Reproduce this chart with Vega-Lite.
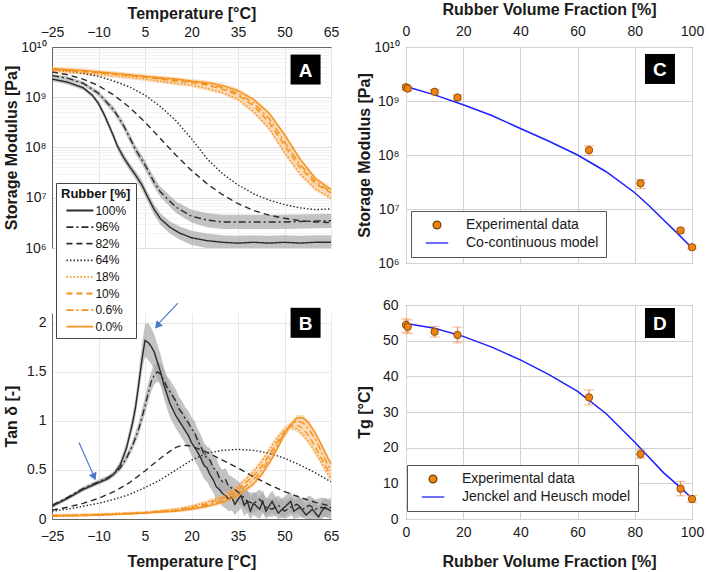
{
 "$schema": "https://vega.github.io/schema/vega-lite/v6.json",
 "padding": {"left": 3, "top": 0, "right": 5, "bottom": 5},
 "background": "white",
 "config": {
  "font": "Liberation Sans",
  "axis": {"labelFontSize": 14, "titleFontSize": 16, "titleFontWeight": "bold", "labelColor": "#1a1a1a", "titleColor": "#1a1a1a", "domainColor": "#666666", "ticks": false, "labelFlush": false, "labelOverlap": false},
  "legend": {"labelFont": "Liberation Sans", "titleFont": "Liberation Sans", "labelLimit": 400}
 },
 "datasets": {
  "modA": [
   {"r":"100%","T":-25,"v":2.3e9,"lo":2.1e9,"hi":2.5e9},
   {"r":"100%","T":-20,"v":2.0e9,"lo":1.8e9,"hi":2.2e9},
   {"r":"100%","T":-15,"v":1.55e9,"lo":1.4e9,"hi":1.7e9},
   {"r":"100%","T":-12,"v":1.1e9,"lo":1.0e9,"hi":1.2e9},
   {"r":"100%","T":-10,"v":7.5e8,"lo":6.6e8,"hi":8.5e8},
   {"r":"100%","T":-8,"v":4.3e8,"lo":3.7e8,"hi":5.0e8},
   {"r":"100%","T":-5,"v":1.6e8,"lo":1.35e8,"hi":1.9e8},
   {"r":"100%","T":-4,"v":1.1e8,"lo":9.2e7,"hi":1.3e8},
   {"r":"100%","T":-2,"v":6.5e7,"lo":5.4e7,"hi":7.8e7},
   {"r":"100%","T":0,"v":4.2e7,"lo":3.5e7,"hi":5.0e7},
   {"r":"100%","T":2,"v":2.8e7,"lo":2.3e7,"hi":3.4e7},
   {"r":"100%","T":4,"v":1.8e7,"lo":1.45e7,"hi":2.2e7},
   {"r":"100%","T":6,"v":1.0e7,"lo":8.0e6,"hi":1.25e7},
   {"r":"100%","T":8,"v":5.8e6,"lo":4.5e6,"hi":7.3e6},
   {"r":"100%","T":10,"v":3.8e6,"lo":2.9e6,"hi":4.9e6},
   {"r":"100%","T":13,"v":2.6e6,"lo":1.95e6,"hi":3.4e6},
   {"r":"100%","T":16,"v":2.0e6,"lo":1.5e6,"hi":2.7e6},
   {"r":"100%","T":20,"v":1.6e6,"lo":1.15e6,"hi":2.2e6},
   {"r":"100%","T":25,"v":1.4e6,"lo":1.0e6,"hi":1.95e6},
   {"r":"100%","T":30,"v":1.3e6,"lo":9.5e5,"hi":1.8e6},
   {"r":"100%","T":35,"v":1.25e6,"lo":9.0e5,"hi":1.75e6},
   {"r":"100%","T":40,"v":1.3e6,"lo":9.5e5,"hi":1.8e6},
   {"r":"100%","T":45,"v":1.25e6,"lo":9.0e5,"hi":1.75e6},
   {"r":"100%","T":50,"v":1.3e6,"lo":9.5e5,"hi":1.8e6},
   {"r":"100%","T":55,"v":1.25e6,"lo":9.0e5,"hi":1.75e6},
   {"r":"100%","T":60,"v":1.3e6,"lo":9.5e5,"hi":1.8e6},
   {"r":"100%","T":65,"v":1.3e6,"lo":9.5e5,"hi":1.8e6},
   {"r":"96%","T":-25,"v":2.7e9,"lo":2.5e9,"hi":2.9e9},
   {"r":"96%","T":-20,"v":2.4e9,"lo":2.2e9,"hi":2.6e9},
   {"r":"96%","T":-15,"v":1.9e9,"lo":1.75e9,"hi":2.05e9},
   {"r":"96%","T":-10,"v":1.2e9,"lo":1.05e9,"hi":1.35e9},
   {"r":"96%","T":-5,"v":5.5e8,"lo":4.7e8,"hi":6.4e8},
   {"r":"96%","T":-2,"v":2.8e8,"lo":2.35e8,"hi":3.3e8},
   {"r":"96%","T":0,"v":1.6e8,"lo":1.3e8,"hi":1.95e8},
   {"r":"96%","T":2,"v":9.0e7,"lo":7.3e7,"hi":1.1e8},
   {"r":"96%","T":5,"v":4.5e7,"lo":3.6e7,"hi":5.6e7},
   {"r":"96%","T":8,"v":2.0e7,"lo":1.6e7,"hi":2.5e7},
   {"r":"96%","T":10,"v":1.3e7,"lo":1.02e7,"hi":1.65e7},
   {"r":"96%","T":15,"v":6.5e6,"lo":5.0e6,"hi":8.4e6},
   {"r":"96%","T":20,"v":4.3e6,"lo":3.2e6,"hi":5.8e6},
   {"r":"96%","T":25,"v":3.6e6,"lo":2.6e6,"hi":5.0e6},
   {"r":"96%","T":30,"v":3.3e6,"lo":2.4e6,"hi":4.6e6},
   {"r":"96%","T":40,"v":3.3e6,"lo":2.4e6,"hi":4.6e6},
   {"r":"96%","T":50,"v":3.3e6,"lo":2.4e6,"hi":4.6e6},
   {"r":"96%","T":65,"v":3.5e6,"lo":2.5e6,"hi":4.8e6},
   {"r":"82%","T":-25,"v":3.2e9},{"r":"82%","T":-20,"v":2.8e9},{"r":"82%","T":-15,"v":2.3e9},{"r":"82%","T":-10,"v":1.7e9},
   {"r":"82%","T":-5,"v":1.1e9},{"r":"82%","T":0,"v":6.3e8},{"r":"82%","T":5,"v":3.2e8},{"r":"82%","T":10,"v":1.5e8},
   {"r":"82%","T":15,"v":7.0e7},{"r":"82%","T":20,"v":3.5e7},{"r":"82%","T":25,"v":1.9e7},{"r":"82%","T":30,"v":1.15e7},
   {"r":"82%","T":35,"v":7.6e6},{"r":"82%","T":40,"v":5.6e6},{"r":"82%","T":45,"v":4.5e6},{"r":"82%","T":50,"v":3.9e6},
   {"r":"82%","T":55,"v":3.5e6},{"r":"82%","T":60,"v":3.3e6},{"r":"82%","T":65,"v":3.2e6},
   {"r":"64%","T":-25,"v":3.6e9},{"r":"64%","T":-20,"v":3.3e9},{"r":"64%","T":-15,"v":3.0e9},{"r":"64%","T":-10,"v":2.6e9},
   {"r":"64%","T":-5,"v":2.1e9},{"r":"64%","T":0,"v":1.6e9},{"r":"64%","T":5,"v":1.1e9},{"r":"64%","T":10,"v":6.5e8},
   {"r":"64%","T":15,"v":3.4e8},{"r":"64%","T":20,"v":1.5e8},{"r":"64%","T":25,"v":6.0e7},{"r":"64%","T":30,"v":3.0e7},
   {"r":"64%","T":35,"v":1.8e7},{"r":"64%","T":40,"v":1.2e7},{"r":"64%","T":45,"v":9.0e6},{"r":"64%","T":50,"v":7.3e6},
   {"r":"64%","T":55,"v":6.3e6},{"r":"64%","T":60,"v":5.8e6},{"r":"64%","T":65,"v":6.0e6},
   {"r":"18%","T":-25,"v":3.4e9},{"r":"18%","T":-15,"v":3.1e9},{"r":"18%","T":-5,"v":2.7e9},{"r":"18%","T":5,"v":2.3e9},
   {"r":"18%","T":15,"v":1.9e9},{"r":"18%","T":20,"v":1.75e9},{"r":"18%","T":25,"v":1.5e9},{"r":"18%","T":30,"v":1.25e9},
   {"r":"18%","T":35,"v":9.1e8},{"r":"18%","T":40,"v":5.2e8},{"r":"18%","T":45,"v":2.4e8},{"r":"18%","T":50,"v":7.9e7},
   {"r":"18%","T":55,"v":3.0e7},{"r":"18%","T":60,"v":1.5e7},{"r":"18%","T":65,"v":1.0e7},
   {"r":"10%","T":-25,"v":3.55e9},{"r":"10%","T":-15,"v":3.25e9},{"r":"10%","T":-5,"v":2.9e9},{"r":"10%","T":5,"v":2.5e9},
   {"r":"10%","T":15,"v":2.1e9},{"r":"10%","T":20,"v":1.95e9},{"r":"10%","T":25,"v":1.75e9},{"r":"10%","T":30,"v":1.45e9},
   {"r":"10%","T":35,"v":1.1e9},{"r":"10%","T":40,"v":6.8e8},{"r":"10%","T":45,"v":3.2e8},{"r":"10%","T":50,"v":1.1e8},
   {"r":"10%","T":55,"v":4.0e7},{"r":"10%","T":60,"v":1.9e7},{"r":"10%","T":65,"v":1.25e7},
   {"r":"0.6%","T":-25,"v":3.6e9},{"r":"0.6%","T":-15,"v":3.3e9},{"r":"0.6%","T":-5,"v":2.95e9},{"r":"0.6%","T":5,"v":2.55e9},
   {"r":"0.6%","T":15,"v":2.2e9},{"r":"0.6%","T":20,"v":2.05e9},{"r":"0.6%","T":25,"v":1.85e9},{"r":"0.6%","T":30,"v":1.55e9},
   {"r":"0.6%","T":35,"v":1.2e9},{"r":"0.6%","T":40,"v":7.6e8},{"r":"0.6%","T":45,"v":3.8e8},{"r":"0.6%","T":50,"v":1.3e8},
   {"r":"0.6%","T":55,"v":4.6e7},{"r":"0.6%","T":60,"v":2.1e7},{"r":"0.6%","T":65,"v":1.3e7},
   {"r":"0.0%","T":-25,"v":3.7e9,"lo":3.1e9,"hi":4.05e9},
   {"r":"0.0%","T":-15,"v":3.4e9,"lo":2.8e9,"hi":3.75e9},
   {"r":"0.0%","T":-5,"v":3.0e9,"lo":2.45e9,"hi":3.3e9},
   {"r":"0.0%","T":5,"v":2.6e9,"lo":2.1e9,"hi":2.85e9},
   {"r":"0.0%","T":15,"v":2.3e9,"lo":1.73e9,"hi":2.5e9},
   {"r":"0.0%","T":20,"v":2.1e9,"lo":1.6e9,"hi":2.3e9},
   {"r":"0.0%","T":25,"v":1.95e9,"lo":1.36e9,"hi":2.15e9},
   {"r":"0.0%","T":30,"v":1.7e9,"lo":1.14e9,"hi":1.87e9},
   {"r":"0.0%","T":35,"v":1.35e9,"lo":8.3e8,"hi":1.5e9},
   {"r":"0.0%","T":40,"v":9.0e8,"lo":4.7e8,"hi":9.9e8},
   {"r":"0.0%","T":45,"v":4.8e8,"lo":2.2e8,"hi":5.3e8},
   {"r":"0.0%","T":50,"v":1.8e8,"lo":7.2e7,"hi":2.0e8},
   {"r":"0.0%","T":55,"v":5.9e7,"lo":2.7e7,"hi":6.5e7},
   {"r":"0.0%","T":60,"v":2.4e7,"lo":1.36e7,"hi":2.65e7},
   {"r":"0.0%","T":65,"v":1.45e7,"lo":9.1e6,"hi":1.6e7}
  ],
  "tanB": [
   {"r":"100%","T":-25,"v":0.13,"lo":0.11,"hi":0.15},{"r":"100%","T":-20,"v":0.21,"lo":0.19,"hi":0.23},
   {"r":"100%","T":-15,"v":0.30,"lo":0.28,"hi":0.32},{"r":"100%","T":-10,"v":0.37,"lo":0.35,"hi":0.39},
   {"r":"100%","T":-7,"v":0.41,"lo":0.39,"hi":0.44},{"r":"100%","T":-5,"v":0.46,"lo":0.43,"hi":0.49},
   {"r":"100%","T":-3,"v":0.55,"lo":0.51,"hi":0.59},{"r":"100%","T":-1,"v":0.72,"lo":0.67,"hi":0.78},
   {"r":"100%","T":1,"v":0.98,"lo":0.91,"hi":1.06},{"r":"100%","T":2,"v":1.15,"lo":1.06,"hi":1.25},
   {"r":"100%","T":3,"v":1.38,"lo":1.27,"hi":1.5},{"r":"100%","T":4,"v":1.62,"lo":1.5,"hi":1.78},
   {"r":"100%","T":5,"v":1.82,"lo":1.66,"hi":1.98},{"r":"100%","T":6,"v":1.8,"lo":1.62,"hi":2.0},
   {"r":"100%","T":7,"v":1.76,"lo":1.58,"hi":1.95},{"r":"100%","T":8,"v":1.7,"lo":1.52,"hi":1.88},
   {"r":"100%","T":9,"v":1.6,"lo":1.44,"hi":1.78},{"r":"100%","T":10,"v":1.5,"lo":1.36,"hi":1.68},
   {"r":"100%","T":11,"v":1.38,"lo":1.24,"hi":1.56},{"r":"100%","T":12,"v":1.28,"lo":1.14,"hi":1.45},
   {"r":"100%","T":13,"v":1.18,"lo":1.04,"hi":1.36},{"r":"100%","T":15,"v":1.05,"lo":0.92,"hi":1.22},
   {"r":"100%","T":17,"v":0.95,"lo":0.82,"hi":1.12},{"r":"100%","T":19,"v":0.85,"lo":0.72,"hi":1.02},
   {"r":"100%","T":20,"v":0.78,"lo":0.65,"hi":0.96},{"r":"100%","T":22,"v":0.68,"lo":0.54,"hi":0.85},
   {"r":"100%","T":23,"v":0.62,"lo":0.48,"hi":0.78},{"r":"100%","T":24,"v":0.55,"lo":0.41,"hi":0.72},
   {"r":"100%","T":25,"v":0.52,"lo":0.38,"hi":0.68},{"r":"100%","T":26,"v":0.45,"lo":0.32,"hi":0.6},
   {"r":"100%","T":27,"v":0.4,"lo":0.27,"hi":0.55},{"r":"100%","T":28,"v":0.33,"lo":0.2,"hi":0.48},
   {"r":"100%","T":29,"v":0.3,"lo":0.17,"hi":0.44},{"r":"100%","T":30,"v":0.26,"lo":0.13,"hi":0.4},
   {"r":"100%","T":31,"v":0.24,"lo":0.11,"hi":0.38},{"r":"100%","T":32,"v":0.2,"lo":0.08,"hi":0.34},
   {"r":"100%","T":33,"v":0.22,"lo":0.09,"hi":0.35},{"r":"100%","T":34,"v":0.15,"lo":0.04,"hi":0.3},
   {"r":"100%","T":35,"v":0.2,"lo":0.08,"hi":0.33},{"r":"100%","T":36,"v":0.24,"lo":0.11,"hi":0.36},
   {"r":"100%","T":37,"v":0.14,"lo":0.03,"hi":0.27},{"r":"100%","T":38,"v":0.18,"lo":0.06,"hi":0.3},
   {"r":"100%","T":39,"v":0.08,"lo":0.0,"hi":0.22},{"r":"100%","T":40,"v":0.16,"lo":0.04,"hi":0.28},
   {"r":"100%","T":42,"v":0.1,"lo":0.0,"hi":0.22},{"r":"100%","T":43,"v":0.18,"lo":0.06,"hi":0.3},
   {"r":"100%","T":44,"v":0.08,"lo":0.0,"hi":0.2},{"r":"100%","T":46,"v":0.18,"lo":0.07,"hi":0.29},
   {"r":"100%","T":48,"v":0.06,"lo":0.0,"hi":0.18},{"r":"100%","T":50,"v":0.12,"lo":0.02,"hi":0.23},
   {"r":"100%","T":52,"v":0.18,"lo":0.07,"hi":0.28},{"r":"100%","T":53,"v":0.08,"lo":0.0,"hi":0.19},
   {"r":"100%","T":55,"v":0.12,"lo":0.02,"hi":0.22},{"r":"100%","T":57,"v":0.04,"lo":0.0,"hi":0.15},
   {"r":"100%","T":59,"v":0.1,"lo":0.0,"hi":0.2},{"r":"100%","T":61,"v":0.02,"lo":0.0,"hi":0.13},
   {"r":"100%","T":62,"v":0.08,"lo":0.0,"hi":0.18},{"r":"100%","T":63,"v":0.12,"lo":0.02,"hi":0.22},
   {"r":"100%","T":65,"v":0.08,"lo":0.0,"hi":0.18},
   {"r":"96%","T":-25,"v":0.14,"lo":0.13,"hi":0.15},{"r":"96%","T":-20,"v":0.22,"lo":0.21,"hi":0.23},
   {"r":"96%","T":-15,"v":0.31,"lo":0.3,"hi":0.33},{"r":"96%","T":-10,"v":0.38,"lo":0.36,"hi":0.4},
   {"r":"96%","T":-7,"v":0.42,"lo":0.4,"hi":0.44},{"r":"96%","T":-5,"v":0.46,"lo":0.44,"hi":0.48},
   {"r":"96%","T":-3,"v":0.52,"lo":0.49,"hi":0.55},{"r":"96%","T":-1,"v":0.62,"lo":0.58,"hi":0.66},
   {"r":"96%","T":1,"v":0.75,"lo":0.7,"hi":0.8},{"r":"96%","T":3,"v":0.92,"lo":0.86,"hi":0.99},
   {"r":"96%","T":5,"v":1.15,"lo":1.07,"hi":1.24},{"r":"96%","T":6,"v":1.28,"lo":1.19,"hi":1.38},
   {"r":"96%","T":7,"v":1.4,"lo":1.3,"hi":1.5},{"r":"96%","T":8,"v":1.47,"lo":1.37,"hi":1.57},
   {"r":"96%","T":9,"v":1.5,"lo":1.4,"hi":1.6},{"r":"96%","T":10,"v":1.48,"lo":1.38,"hi":1.59},
   {"r":"96%","T":11,"v":1.42,"lo":1.32,"hi":1.53},{"r":"96%","T":12,"v":1.35,"lo":1.25,"hi":1.46},
   {"r":"96%","T":13,"v":1.3,"lo":1.19,"hi":1.42},{"r":"96%","T":14,"v":1.25,"lo":1.14,"hi":1.37},
   {"r":"96%","T":15,"v":1.2,"lo":1.08,"hi":1.32},{"r":"96%","T":16,"v":1.12,"lo":1.0,"hi":1.24},
   {"r":"96%","T":17,"v":1.08,"lo":0.96,"hi":1.2},{"r":"96%","T":18,"v":1.02,"lo":0.9,"hi":1.14},
   {"r":"96%","T":19,"v":0.98,"lo":0.86,"hi":1.1},{"r":"96%","T":20,"v":0.92,"lo":0.8,"hi":1.04},
   {"r":"96%","T":21,"v":0.88,"lo":0.76,"hi":1.0},{"r":"96%","T":22,"v":0.8,"lo":0.68,"hi":0.92},
   {"r":"96%","T":23,"v":0.74,"lo":0.62,"hi":0.86},{"r":"96%","T":24,"v":0.66,"lo":0.54,"hi":0.78},
   {"r":"96%","T":25,"v":0.62,"lo":0.5,"hi":0.74},{"r":"96%","T":26,"v":0.6,"lo":0.48,"hi":0.72},
   {"r":"96%","T":27,"v":0.52,"lo":0.4,"hi":0.64},{"r":"96%","T":28,"v":0.5,"lo":0.38,"hi":0.62},
   {"r":"96%","T":29,"v":0.42,"lo":0.3,"hi":0.54},{"r":"96%","T":30,"v":0.38,"lo":0.26,"hi":0.5},
   {"r":"96%","T":31,"v":0.4,"lo":0.28,"hi":0.52},{"r":"96%","T":32,"v":0.33,"lo":0.22,"hi":0.45},
   {"r":"96%","T":34,"v":0.3,"lo":0.19,"hi":0.41},{"r":"96%","T":36,"v":0.25,"lo":0.14,"hi":0.36},
   {"r":"96%","T":38,"v":0.18,"lo":0.08,"hi":0.28},{"r":"96%","T":40,"v":0.16,"lo":0.06,"hi":0.26},
   {"r":"96%","T":42,"v":0.2,"lo":0.1,"hi":0.3},{"r":"96%","T":44,"v":0.12,"lo":0.03,"hi":0.22},
   {"r":"96%","T":46,"v":0.1,"lo":0.02,"hi":0.2},{"r":"96%","T":48,"v":0.14,"lo":0.05,"hi":0.24},
   {"r":"96%","T":50,"v":0.08,"lo":0.0,"hi":0.18},{"r":"96%","T":52,"v":0.12,"lo":0.03,"hi":0.22},
   {"r":"96%","T":54,"v":0.15,"lo":0.06,"hi":0.25},{"r":"96%","T":56,"v":0.1,"lo":0.02,"hi":0.2},
   {"r":"96%","T":58,"v":0.14,"lo":0.05,"hi":0.24},{"r":"96%","T":60,"v":0.1,"lo":0.02,"hi":0.2},
   {"r":"96%","T":62,"v":0.12,"lo":0.03,"hi":0.22},{"r":"96%","T":64,"v":0.1,"lo":0.02,"hi":0.2},
   {"r":"96%","T":65,"v":0.12,"lo":0.03,"hi":0.22},
   {"r":"82%","T":-25,"v":0.09},{"r":"82%","T":-20,"v":0.12},{"r":"82%","T":-15,"v":0.16},{"r":"82%","T":-10,"v":0.21},
   {"r":"82%","T":-5,"v":0.28},{"r":"82%","T":0,"v":0.37},{"r":"82%","T":5,"v":0.49},{"r":"82%","T":10,"v":0.62},
   {"r":"82%","T":13,"v":0.69},{"r":"82%","T":15,"v":0.73},{"r":"82%","T":17,"v":0.75},{"r":"82%","T":19,"v":0.75},
   {"r":"82%","T":21,"v":0.73},{"r":"82%","T":25,"v":0.68},{"r":"82%","T":30,"v":0.6},{"r":"82%","T":35,"v":0.52},
   {"r":"82%","T":40,"v":0.43},{"r":"82%","T":45,"v":0.35},{"r":"82%","T":50,"v":0.28},{"r":"82%","T":55,"v":0.22},
   {"r":"82%","T":60,"v":0.17},{"r":"82%","T":65,"v":0.13},
   {"r":"64%","T":-25,"v":0.08},{"r":"64%","T":-20,"v":0.1},{"r":"64%","T":-15,"v":0.13},{"r":"64%","T":-10,"v":0.16},
   {"r":"64%","T":-5,"v":0.2},{"r":"64%","T":0,"v":0.25},{"r":"64%","T":5,"v":0.32},{"r":"64%","T":10,"v":0.4},
   {"r":"64%","T":15,"v":0.5},{"r":"64%","T":20,"v":0.6},{"r":"64%","T":25,"v":0.67},{"r":"64%","T":30,"v":0.7},
   {"r":"64%","T":35,"v":0.71},{"r":"64%","T":40,"v":0.7},{"r":"64%","T":45,"v":0.67},{"r":"64%","T":50,"v":0.62},
   {"r":"64%","T":55,"v":0.55},{"r":"64%","T":60,"v":0.47},{"r":"64%","T":65,"v":0.38},
   {"r":"18%","T":-25,"v":0.04},{"r":"18%","T":-15,"v":0.045},{"r":"18%","T":-5,"v":0.055},{"r":"18%","T":5,"v":0.07},
   {"r":"18%","T":15,"v":0.1},{"r":"18%","T":20,"v":0.13},{"r":"18%","T":25,"v":0.17},{"r":"18%","T":30,"v":0.23},
   {"r":"18%","T":35,"v":0.33},{"r":"18%","T":40,"v":0.48},{"r":"18%","T":43,"v":0.6},{"r":"18%","T":46,"v":0.75},
   {"r":"18%","T":48,"v":0.84},{"r":"18%","T":50,"v":0.91},{"r":"18%","T":52,"v":0.94},{"r":"18%","T":54,"v":0.92},
   {"r":"18%","T":56,"v":0.86},{"r":"18%","T":58,"v":0.78},{"r":"18%","T":60,"v":0.68},{"r":"18%","T":62,"v":0.57},
   {"r":"18%","T":64,"v":0.46},{"r":"18%","T":65,"v":0.41},
   {"r":"10%","T":-25,"v":0.035},{"r":"10%","T":-15,"v":0.04},{"r":"10%","T":-5,"v":0.05},{"r":"10%","T":5,"v":0.066},
   {"r":"10%","T":15,"v":0.09},{"r":"10%","T":20,"v":0.12},{"r":"10%","T":25,"v":0.155},{"r":"10%","T":30,"v":0.21},
   {"r":"10%","T":35,"v":0.3},{"r":"10%","T":40,"v":0.44},{"r":"10%","T":43,"v":0.55},{"r":"10%","T":46,"v":0.7},
   {"r":"10%","T":48,"v":0.8},{"r":"10%","T":50,"v":0.89},{"r":"10%","T":52,"v":0.95},{"r":"10%","T":54,"v":0.96},
   {"r":"10%","T":56,"v":0.92},{"r":"10%","T":58,"v":0.84},{"r":"10%","T":60,"v":0.73},{"r":"10%","T":62,"v":0.61},
   {"r":"10%","T":64,"v":0.5},{"r":"10%","T":65,"v":0.45},
   {"r":"0.6%","T":-25,"v":0.03},{"r":"0.6%","T":-15,"v":0.036},{"r":"0.6%","T":-5,"v":0.047},{"r":"0.6%","T":5,"v":0.062},
   {"r":"0.6%","T":15,"v":0.085},{"r":"0.6%","T":20,"v":0.11},{"r":"0.6%","T":25,"v":0.14},{"r":"0.6%","T":30,"v":0.19},
   {"r":"0.6%","T":35,"v":0.27},{"r":"0.6%","T":40,"v":0.4},{"r":"0.6%","T":43,"v":0.51},{"r":"0.6%","T":46,"v":0.66},
   {"r":"0.6%","T":48,"v":0.77},{"r":"0.6%","T":50,"v":0.88},{"r":"0.6%","T":52,"v":0.96},{"r":"0.6%","T":54,"v":1.0},
   {"r":"0.6%","T":56,"v":0.98},{"r":"0.6%","T":58,"v":0.91},{"r":"0.6%","T":60,"v":0.81},{"r":"0.6%","T":62,"v":0.68},
   {"r":"0.6%","T":64,"v":0.55},{"r":"0.6%","T":65,"v":0.5},
   {"r":"0.0%","T":-25,"v":0.03,"lo":0.02,"hi":0.05},{"r":"0.0%","T":-15,"v":0.035,"lo":0.025,"hi":0.055},
   {"r":"0.0%","T":-5,"v":0.045,"lo":0.035,"hi":0.065},{"r":"0.0%","T":5,"v":0.06,"lo":0.05,"hi":0.08},
   {"r":"0.0%","T":15,"v":0.08,"lo":0.065,"hi":0.115},{"r":"0.0%","T":20,"v":0.1,"lo":0.085,"hi":0.145},
   {"r":"0.0%","T":25,"v":0.13,"lo":0.11,"hi":0.19},{"r":"0.0%","T":30,"v":0.17,"lo":0.15,"hi":0.25},
   {"r":"0.0%","T":35,"v":0.24,"lo":0.22,"hi":0.35},{"r":"0.0%","T":40,"v":0.36,"lo":0.33,"hi":0.51},
   {"r":"0.0%","T":43,"v":0.47,"lo":0.44,"hi":0.63},{"r":"0.0%","T":46,"v":0.62,"lo":0.59,"hi":0.78},
   {"r":"0.0%","T":48,"v":0.74,"lo":0.71,"hi":0.87},{"r":"0.0%","T":50,"v":0.86,"lo":0.83,"hi":0.94},
   {"r":"0.0%","T":52,"v":0.96,"lo":0.91,"hi":0.99},{"r":"0.0%","T":54,"v":1.03,"lo":0.89,"hi":1.06},
   {"r":"0.0%","T":56,"v":1.03,"lo":0.83,"hi":1.06},{"r":"0.0%","T":58,"v":0.97,"lo":0.75,"hi":1.0},
   {"r":"0.0%","T":60,"v":0.87,"lo":0.65,"hi":0.9},{"r":"0.0%","T":62,"v":0.75,"lo":0.54,"hi":0.78},
   {"r":"0.0%","T":64,"v":0.62,"lo":0.43,"hi":0.65},{"r":"0.0%","T":65,"v":0.56,"lo":0.38,"hi":0.59}
  ],
  "ptsC": [
   {"f":0,"E":1.8e9,"lo":1.6e9,"hi":2.0e9},
   {"f":0.6,"E":1.7e9,"lo":1.55e9,"hi":1.85e9},
   {"f":10,"E":1.48e9,"lo":1.35e9,"hi":1.62e9},
   {"f":18,"E":1.16e9,"lo":1.05e9,"hi":1.28e9},
   {"f":64,"E":1.23e8,"lo":9.8e7,"hi":1.48e8},
   {"f":82,"E":3.0e7,"lo":2.4e7,"hi":3.5e7},
   {"f":96,"E":4.0e6,"lo":3.6e6,"hi":4.4e6},
   {"f":100,"E":1.96e6,"lo":1.8e6,"hi":2.15e6}
  ],
  "lineC": [
   {"f":0,"E":1.85e9},{"f":10,"E":1.3e9},{"f":20,"E":8.5e8},{"f":30,"E":5.4e8},{"f":40,"E":3.1e8},
   {"f":50,"E":1.8e8},{"f":60,"E":1.0e8},{"f":70,"E":4.9e7},{"f":80,"E":2.0e7},{"f":85,"E":1.15e7},
   {"f":90,"E":6.3e6},{"f":95,"E":3.5e6},{"f":100,"E":1.9e6}
  ],
  "ptsD": [
   {"f":0,"Tg":54.4,"lo":52.4,"hi":56.1},
   {"f":0.6,"Tg":53.9,"lo":52.0,"hi":55.8},
   {"f":10,"Tg":52.5,"lo":51.0,"hi":54.0},
   {"f":18,"Tg":51.6,"lo":49.4,"hi":53.8},
   {"f":64,"Tg":34.1,"lo":32.0,"hi":36.2},
   {"f":82,"Tg":18.2,"lo":17.0,"hi":19.4},
   {"f":96,"Tg":8.5,"lo":6.5,"hi":10.5},
   {"f":100,"Tg":5.6,"lo":4.6,"hi":6.6}
  ],
  "lineD": [
   {"f":0,"Tg":54.8},{"f":10,"Tg":53.5},{"f":20,"Tg":51.2},{"f":30,"Tg":48.2},{"f":40,"Tg":44.6},
   {"f":50,"Tg":40.5},{"f":60,"Tg":35.8},{"f":70,"Tg":29.5},{"f":80,"Tg":21.5},{"f":90,"Tg":13.0},
   {"f":95,"Tg":9.5},{"f":100,"Tg":5.8}
  ]
 },
 "bounds": "flush",
 "spacing": 354,
 "resolve": {"scale": {"color": "independent", "strokeDash": "independent", "fill": "independent", "stroke": "independent", "shape": "independent"}, "legend": {"color": "independent", "strokeDash": "independent", "fill": "independent", "stroke": "independent", "shape": "independent"}},
 "hconcat": [
  {
   "bounds": "flush",
   "spacing": 65,
   "resolve": {"scale": {"color": "independent", "strokeDash": "independent"}, "legend": {"color": "independent", "strokeDash": "independent"}},
   "vconcat": [
    {
     "width": 279, "height": 201,
     "view": {"stroke": null},
     "data": {"name": "modA"},
     "encoding": {
      "x": {"field": "T", "type": "quantitative", "scale": {"domain": [-25, 65], "nice": false, "zero": false},
            "axis": {"orient": "top", "values": [-25, -10, 5, 20, 35, 50, 65], "title": "Temperature [°C]", "grid": true, "gridColor": "#e4e4e4", "labelPadding": 8, "titleY": -29, "titleBaseline": "alphabetic"}},
      "y": {"field": "v", "type": "quantitative", "scale": {"type": "log", "domain": [1e6, 1e10]},
            "axis": {"values": [1e6,2e6,3e6,4e6,5e6,6e6,7e6,8e6,9e6,1e7,2e7,3e7,4e7,5e7,6e7,7e7,8e7,9e7,1e8,2e8,3e8,4e8,5e8,6e8,7e8,8e8,9e8,1e9,2e9,3e9,4e9,5e9,6e9,7e9,8e9,9e9,1e10],
                     "labelExpr": "abs(log(datum.value)/LN10 - round(log(datum.value)/LN10)) < 0.001 ? ['10⁶','10⁷','10⁸','10⁹','10¹⁰'][round(log(datum.value)/LN10) - 6] : ''",
                     "grid": true,
                     "gridColor": {"condition": {"test": "abs(log(datum.value)/LN10 - round(log(datum.value)/LN10)) < 0.001", "value": "#dedede"}, "value": "#f2f2f2"},
                     "labelPadding": 6, "title": "Storage Modulus [Pa]", "titleX": -33}}
     },
     "layer": [
      {"transform": [{"filter": "datum.r == '100%' || datum.r == '96%'"}],
       "mark": {"type": "area", "color": "#a9a9a9", "opacity": 0.7, "clip": true},
       "encoding": {"y": {"field": "lo", "type": "quantitative", "scale": {"type": "log", "domain": [1e6, 1e10]}}, "y2": {"field": "hi"}, "detail": {"field": "r"}}},
      {"transform": [{"filter": "datum.r == '0.0%'"}],
       "mark": {"type": "area", "color": "#f8b66c", "opacity": 0.5, "clip": true},
       "encoding": {"y": {"field": "lo", "type": "quantitative", "scale": {"type": "log", "domain": [1e6, 1e10]}}, "y2": {"field": "hi"}}},
      {"mark": {"type": "line", "strokeWidth": 1.4, "clip": true},
       "encoding": {
        "color": {"field": "r", "type": "nominal", "scale": {"domain": ["100%","96%","82%","64%","18%","10%","0.6%","0.0%"], "range": ["#2b2b2b","#2b2b2b","#2b2b2b","#2b2b2b","#f5921e","#f5921e","#f5921e","#f5921e"]}, "legend": null},
        "strokeDash": {"field": "r", "type": "nominal", "scale": {"domain": ["100%","96%","82%","64%","18%","10%","0.6%","0.0%"], "range": [[1,0],[7,3,2,3],[6,4],[1.5,2],[1.5,2],[6,4],[7,3,2,3],[1,0]]}, "legend": null}
       }},
      {"data": {"values": [{"T": 56.8, "v": 3.56e9, "t": "A"}]},
       "mark": {"type": "point", "shape": "square", "filled": true, "color": "black", "size": 900, "opacity": 1}},
      {"data": {"values": [{"T": 56.8, "v": 3.56e9, "t": "A"}]},
       "mark": {"type": "text", "color": "white", "fontWeight": "bold", "fontSize": 19, "align": "center", "baseline": "middle", "dy": 1},
       "encoding": {"text": {"field": "t"}}}
     ]
    },
    {
     "width": 279, "height": 206,
     "view": {"stroke": null},
     "data": {"name": "tanB"},
     "encoding": {
      "x": {"field": "T", "type": "quantitative", "scale": {"domain": [-25, 65], "nice": false, "zero": false},
            "axis": {"orient": "bottom", "values": [-25, -10, 5, 20, 35, 50, 65], "title": "Temperature [°C]", "grid": true, "gridColor": "#e8e8e8", "labelPadding": 10, "titleY": 47, "titleBaseline": "alphabetic"}},
      "y": {"field": "v", "type": "quantitative", "scale": {"domain": [0, 2.1], "nice": false},
            "axis": {"values": [0, 0.5, 1, 1.5, 2], "format": "~g", "grid": true, "gridColor": "#e8e8e8", "labelPadding": 6, "title": "Tan δ [-]", "titleX": -33}}
     },
     "layer": [
      {"transform": [{"filter": "datum.r == '100%' || datum.r == '96%'"}],
       "mark": {"type": "area", "color": "#a9a9a9", "opacity": 0.7, "clip": true},
       "encoding": {"y": {"field": "lo", "type": "quantitative", "scale": {"domain": [0, 2.1], "nice": false}}, "y2": {"field": "hi"}, "detail": {"field": "r"}}},
      {"transform": [{"filter": "datum.r == '0.0%'"}],
       "mark": {"type": "area", "color": "#f8b66c", "opacity": 0.5, "clip": true},
       "encoding": {"y": {"field": "lo", "type": "quantitative", "scale": {"domain": [0, 2.1], "nice": false}}, "y2": {"field": "hi"}}},
      {"mark": {"type": "line", "strokeWidth": 1.4, "clip": true},
       "encoding": {
        "color": {"field": "r", "type": "nominal", "scale": {"domain": ["100%","96%","82%","64%","18%","10%","0.6%","0.0%"], "range": ["#2b2b2b","#2b2b2b","#2b2b2b","#2b2b2b","#f5921e","#f5921e","#f5921e","#f5921e"]},
                  "legend": {"orient": "none", "legendX": 4, "legendY": -130, "title": "Rubber [%]", "titleFontSize": 13, "titleFontWeight": "bold", "titleColor": "#111111", "labelFontSize": 12, "labelColor": "#111111", "symbolType": "M-2.2,0H2.2", "symbolSize": 150, "symbolStrokeWidth": 1.8, "symbolOffset": 11.4, "strokeColor": "#444444", "fillColor": "white", "padding": 5, "rowPadding": 2.6, "labelOffset": 8, "titlePadding": 2}},
        "strokeDash": {"field": "r", "type": "nominal", "scale": {"domain": ["100%","96%","82%","64%","18%","10%","0.6%","0.0%"], "range": [[1,0],[7,3,2,3],[6,4],[1.5,2],[1.5,2],[6,4],[7,3,2,3],[1,0]]},
                  "legend": {"orient": "none", "legendX": 4, "legendY": -130, "title": "Rubber [%]", "titleFontSize": 13, "titleFontWeight": "bold", "titleColor": "#111111", "labelFontSize": 12, "labelColor": "#111111", "symbolType": "M-2.2,0H2.2", "symbolSize": 150, "symbolStrokeWidth": 1.8, "symbolOffset": 11.4, "strokeColor": "#444444", "fillColor": "white", "padding": 5, "rowPadding": 2.6, "labelOffset": 8, "titlePadding": 2}}
       }},
      {"data": {"values": [{"T": -16.3, "v": 0.78, "T2": -11.8, "v2": 0.46}, {"T": 15.6, "v": 2.2, "T2": 9.6, "v2": 2.0}]},
       "mark": {"type": "rule", "color": "#4a78c8", "strokeWidth": 1.2, "clip": false},
       "encoding": {"x2": {"field": "T2"}, "y2": {"field": "v2"}}},
      {"data": {"values": [{"T": -11.4, "v": 0.43}]},
       "mark": {"type": "point", "shape": "triangle-up", "filled": true, "color": "#4a78c8", "size": 70, "angle": 156, "opacity": 1, "clip": false}},
      {"data": {"values": [{"T": 9.0, "v": 1.97}]},
       "mark": {"type": "point", "shape": "triangle-up", "filled": true, "color": "#4a78c8", "size": 70, "angle": 221, "opacity": 1, "clip": false}},
      {"data": {"values": [{"T": 56.8, "v": 2.0, "t": "B"}]},
       "mark": {"type": "point", "shape": "square", "filled": true, "color": "black", "size": 900, "opacity": 1}},
      {"data": {"values": [{"T": 56.8, "v": 2.0, "t": "B"}]},
       "mark": {"type": "text", "color": "white", "fontWeight": "bold", "fontSize": 19, "align": "center", "baseline": "middle", "dy": 1},
       "encoding": {"text": {"field": "t"}}}
     ]
    }
   ]
  },
  {
   "bounds": "flush",
   "spacing": 42,
   "resolve": {"scale": {"fill": "independent", "stroke": "independent", "shape": "independent"}, "legend": {"fill": "independent", "stroke": "independent", "shape": "independent"}},
   "vconcat": [
    {
     "width": 286, "height": 216,
     "view": {"stroke": "#555555", "strokeWidth": 1},
     "encoding": {
      "x": {"field": "f", "type": "quantitative", "scale": {"domain": [0, 100], "nice": false},
            "axis": {"orient": "top", "values": [0, 20, 40, 60, 80, 100], "title": "Rubber Volume Fraction [%]", "grid": true, "gridColor": "#d2d2d2", "domain": false, "labelPadding": 9, "titleY": -33, "titleBaseline": "alphabetic"}},
      "y": {"field": "E", "type": "quantitative", "scale": {"type": "log", "domain": [1e6, 1e10]},
            "axis": {"values": [1e6, 1e7, 1e8, 1e9, 1e10], "labelExpr": "['10⁶','10⁷','10⁸','10⁹','10¹⁰'][round(log(datum.value)/LN10) - 6]", "grid": true, "gridColor": "#d2d2d2", "domain": false, "labelPadding": 7, "title": "Storage Modulus [Pa]", "titleX": -34}}
     },
     "layer": [
      {"data": {"name": "lineC"},
       "mark": {"type": "line", "color": "#1f1fff", "strokeWidth": 1.5}},
      {"data": {"name": "ptsC"},
       "mark": {"type": "errorbar", "ticks": {"size": 10, "color": "#f3955a", "strokeWidth": 1.4}, "rule": {"color": "#f3955a", "strokeWidth": 1.4}, "clip": false},
       "encoding": {"y": {"field": "lo", "type": "quantitative", "scale": {"type": "log", "domain": [1e6, 1e10]}}, "y2": {"field": "hi"}}},
      {"data": {"name": "ptsC"},
       "mark": {"type": "point", "filled": false, "size": 55, "strokeWidth": 0.8, "opacity": 1, "clip": false},
       "encoding": {
        "fill": {"datum": "Experimental data", "type": "nominal", "scale": {"domain": ["Experimental data", "Co-continuous model"], "range": ["#f0820f", "#1f1fff"]},
          "legend": {"orient": "none", "legendX": 5, "legendY": 164, "title": null, "labelFontSize": 14, "labelColor": "#1a1a1a", "strokeColor": "#555555", "fillColor": "white", "padding": 7, "rowPadding": 4, "symbolSize": 60, "symbolOffset": 12, "labelOffset": 22, "symbolStrokeWidth": 1.3}},
        "stroke": {"datum": "Experimental data", "type": "nominal", "scale": {"domain": ["Experimental data", "Co-continuous model"], "range": ["#6e4008", "#1f1fff"]},
          "legend": {"orient": "none", "legendX": 5, "legendY": 164, "title": null, "labelFontSize": 14, "labelColor": "#1a1a1a", "strokeColor": "#555555", "fillColor": "white", "padding": 7, "rowPadding": 4, "symbolSize": 60, "symbolOffset": 12, "labelOffset": 22, "symbolStrokeWidth": 1.3}},
        "shape": {"datum": "Experimental data", "type": "nominal", "scale": {"domain": ["Experimental data", "Co-continuous model"], "range": ["circle", "M-2.9,0H2.9"]},
          "legend": {"orient": "none", "legendX": 5, "legendY": 164, "title": null, "labelFontSize": 14, "labelColor": "#1a1a1a", "strokeColor": "#555555", "fillColor": "white", "padding": 7, "rowPadding": 4, "symbolSize": 60, "symbolOffset": 12, "labelOffset": 22, "symbolStrokeWidth": 1.3}}
       }},
      {"data": {"values": [{"f": 88.8, "E": 3.92e9, "t": "C"}]},
       "mark": {"type": "point", "shape": "square", "filled": true, "color": "black", "size": 900, "opacity": 1}},
      {"data": {"values": [{"f": 88.8, "E": 3.92e9, "t": "C"}]},
       "mark": {"type": "text", "color": "white", "fontWeight": "bold", "fontSize": 19, "align": "center", "baseline": "middle", "dy": 1},
       "encoding": {"text": {"field": "t"}}}
     ]
    },
    {
     "width": 286, "height": 214,
     "view": {"stroke": "#555555", "strokeWidth": 1},
     "encoding": {
      "x": {"field": "f", "type": "quantitative", "scale": {"domain": [0, 100], "nice": false},
            "axis": {"orient": "bottom", "values": [0, 20, 40, 60, 80, 100], "title": "Rubber Volume Fraction [%]", "grid": true, "gridColor": "#d2d2d2", "domain": false, "labelPadding": 6, "titleY": 47, "titleBaseline": "alphabetic"}},
      "y": {"field": "Tg", "type": "quantitative", "scale": {"domain": [0, 60], "nice": false},
            "axis": {"values": [0, 10, 20, 30, 40, 50, 60], "grid": true, "gridColor": "#d2d2d2", "domain": false, "labelPadding": 8, "title": "Tg [°C]", "titleX": -34}}
     },
     "layer": [
      {"data": {"name": "lineD"},
       "mark": {"type": "line", "color": "#1f1fff", "strokeWidth": 1.5}},
      {"data": {"name": "ptsD"},
       "mark": {"type": "errorbar", "ticks": {"size": 10, "color": "#f3955a", "strokeWidth": 1.4}, "rule": {"color": "#f3955a", "strokeWidth": 1.4}, "clip": false},
       "encoding": {"y": {"field": "lo", "type": "quantitative", "scale": {"domain": [0, 60], "nice": false}}, "y2": {"field": "hi"}}},
      {"data": {"name": "ptsD"},
       "mark": {"type": "point", "filled": false, "size": 55, "strokeWidth": 0.8, "opacity": 1, "clip": false},
       "encoding": {
        "fill": {"datum": "Experimental data", "type": "nominal", "scale": {"domain": ["Experimental data", "Jenckel and Heusch model"], "range": ["#f0820f", "#1f1fff"]},
          "legend": {"orient": "none", "legendX": 1, "legendY": 160, "title": null, "labelFontSize": 14, "labelColor": "#1a1a1a", "strokeColor": "#555555", "fillColor": "white", "padding": 7, "rowPadding": 4, "symbolSize": 60, "symbolOffset": 12, "labelOffset": 22, "symbolStrokeWidth": 1.3}},
        "stroke": {"datum": "Experimental data", "type": "nominal", "scale": {"domain": ["Experimental data", "Jenckel and Heusch model"], "range": ["#6e4008", "#1f1fff"]},
          "legend": {"orient": "none", "legendX": 1, "legendY": 160, "title": null, "labelFontSize": 14, "labelColor": "#1a1a1a", "strokeColor": "#555555", "fillColor": "white", "padding": 7, "rowPadding": 4, "symbolSize": 60, "symbolOffset": 12, "labelOffset": 22, "symbolStrokeWidth": 1.3}},
        "shape": {"datum": "Experimental data", "type": "nominal", "scale": {"domain": ["Experimental data", "Jenckel and Heusch model"], "range": ["circle", "M-2.9,0H2.9"]},
          "legend": {"orient": "none", "legendX": 1, "legendY": 160, "title": null, "labelFontSize": 14, "labelColor": "#1a1a1a", "strokeColor": "#555555", "fillColor": "white", "padding": 7, "rowPadding": 4, "symbolSize": 60, "symbolOffset": 12, "labelOffset": 22, "symbolStrokeWidth": 1.3}}
       }},
      {"data": {"values": [{"f": 88.8, "Tg": 54.95, "t": "D"}]},
       "mark": {"type": "point", "shape": "square", "filled": true, "color": "black", "size": 900, "opacity": 1}},
      {"data": {"values": [{"f": 88.8, "Tg": 54.95, "t": "D"}]},
       "mark": {"type": "text", "color": "white", "fontWeight": "bold", "fontSize": 19, "align": "center", "baseline": "middle", "dy": 1},
       "encoding": {"text": {"field": "t"}}}
     ]
    }
   ]
  }
 ]
}
